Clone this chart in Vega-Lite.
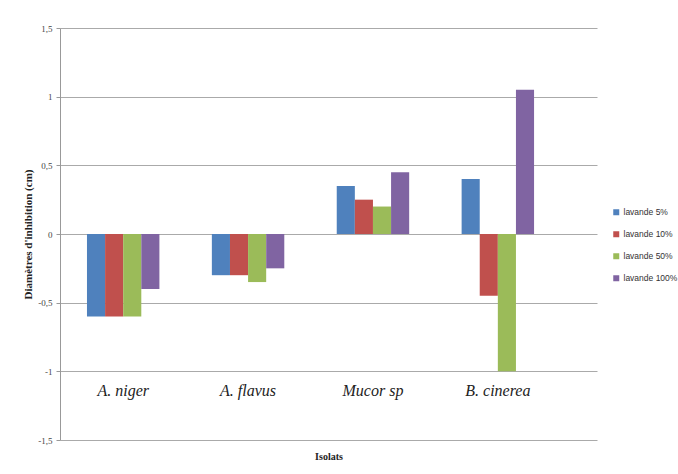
{
  "$schema": "https://vega.github.io/schema/vega-lite/v6.json",
  "autosize": "none",
  "padding": {"left": 60, "top": 28, "right": 81, "bottom": 34},
  "width": 537,
  "height": 412,
  "background": "white",
  "data": {"values": [
    {"isolat": "A. niger", "serie": "lavande 5%", "v": -0.6},
    {"isolat": "A. niger", "serie": "lavande 10%", "v": -0.6},
    {"isolat": "A. niger", "serie": "lavande 50%", "v": -0.6},
    {"isolat": "A. niger", "serie": "lavande 100%", "v": -0.4},
    {"isolat": "A. flavus", "serie": "lavande 5%", "v": -0.3},
    {"isolat": "A. flavus", "serie": "lavande 10%", "v": -0.3},
    {"isolat": "A. flavus", "serie": "lavande 50%", "v": -0.35},
    {"isolat": "A. flavus", "serie": "lavande 100%", "v": -0.25},
    {"isolat": "Mucor sp", "serie": "lavande 5%", "v": 0.35},
    {"isolat": "Mucor sp", "serie": "lavande 10%", "v": 0.25},
    {"isolat": "Mucor sp", "serie": "lavande 50%", "v": 0.2},
    {"isolat": "Mucor sp", "serie": "lavande 100%", "v": 0.45},
    {"isolat": "B. cinerea", "serie": "lavande 5%", "v": 0.4},
    {"isolat": "B. cinerea", "serie": "lavande 10%", "v": -0.45},
    {"isolat": "B. cinerea", "serie": "lavande 50%", "v": -1.0},
    {"isolat": "B. cinerea", "serie": "lavande 100%", "v": 1.05}
  ]},
  "mark": {"type": "bar"},
  "encoding": {
    "x": {
      "field": "isolat", "type": "nominal",
      "sort": ["A. niger", "A. flavus", "Mucor sp", "B. cinerea"],
      "scale": {"paddingInner": 0.42, "paddingOuter": 0.36, "align": 0.3},
      "axis": {
        "title": "Isolats",
        "titleFont": "Liberation Serif", "titleFontSize": 10, "titleFontWeight": "bold", "titleColor": "#222",
        "titleY": 19, "titleBaseline": "alphabetic",
        "labelAngle": 0, "labelFont": "Liberation Serif", "labelFontSize": 16, "labelFontStyle": "italic",
        "labelColor": "#222", "labelPadding": -58,
        "domain": false, "ticks": false, "grid": false
      }
    },
    "xOffset": {"field": "serie", "type": "nominal", "sort": ["lavande 5%", "lavande 10%", "lavande 50%", "lavande 100%"], "scale": {"paddingInner": 0, "paddingOuter": 0}},
    "y": {
      "field": "v", "type": "quantitative",
      "scale": {"domain": [-1.5, 1.5], "nice": false},
      "axis": {
        "title": "Diamètres d'inhibition (cm)",
        "titleFont": "Liberation Serif", "titleFontSize": 11, "titleFontWeight": "bold", "titleColor": "#222",
        "titlePadding": 4,
        "values": [-1.5, -1, -0.5, 0, 0.5, 1, 1.5],
        "labelExpr": "replace(toString(datum.value), '.', ',')",
        "labelFont": "Liberation Serif", "labelFontSize": 9, "labelColor": "#444", "labelPadding": 4,
        "tickSize": 4, "tickColor": "#999", "domainColor": "#999",
        "gridColor": "#aaa", "gridWidth": 1
      }
    },
    "color": {
      "field": "serie", "type": "nominal",
      "sort": ["lavande 5%", "lavande 10%", "lavande 50%", "lavande 100%"],
      "scale": {"domain": ["lavande 5%", "lavande 10%", "lavande 50%", "lavande 100%"], "range": ["#4F81BD", "#C0504D", "#9BBB59", "#8064A2"]},
      "legend": {
        "title": null, "orient": "none", "legendX": 552, "legendY": 180,
        "symbolType": "square", "symbolSize": 36, "symbolStrokeWidth": 0,
        "labelFont": "Liberation Sans", "labelFontSize": 8.5, "labelColor": "#333",
        "rowPadding": 13, "labelOffset": 3
      }
    }
  },
  "config": {"view": {"stroke": null}}
}
